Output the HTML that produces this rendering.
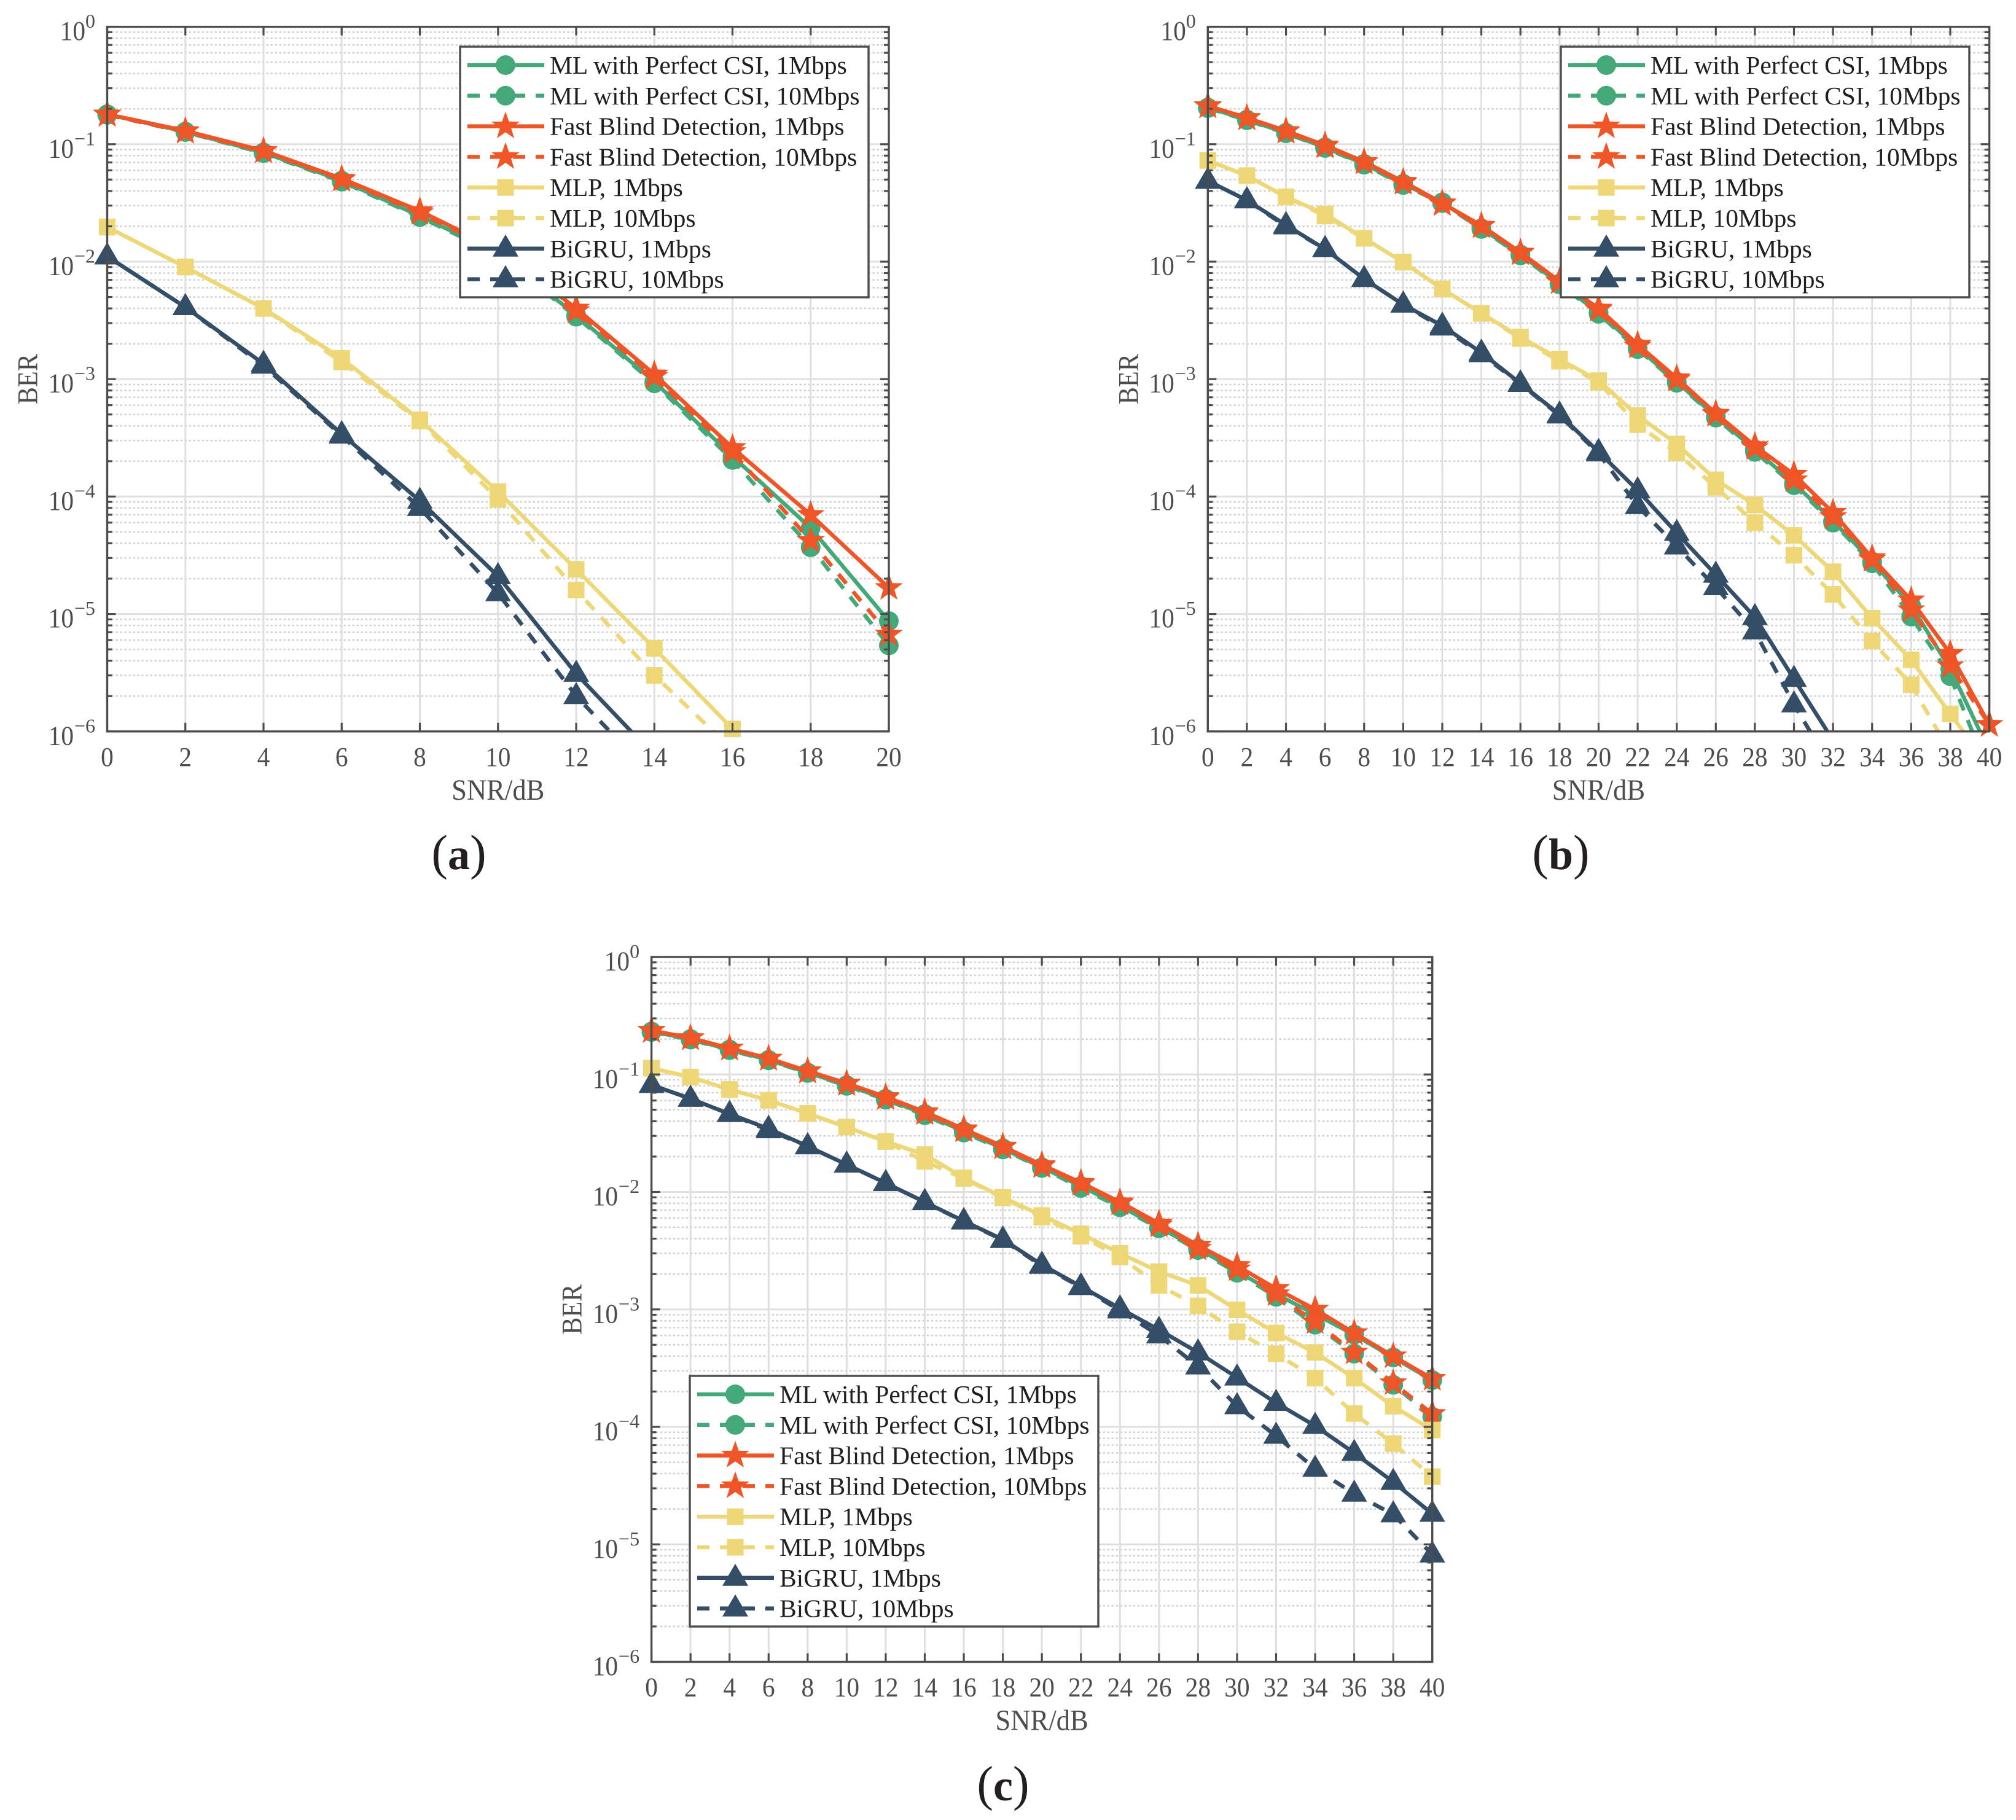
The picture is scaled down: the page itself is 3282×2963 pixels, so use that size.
<!DOCTYPE html>
<html lang="en">
<head>
<meta charset="utf-8">
<title>BER versus SNR comparison</title>
<style>
html,body{margin:0;padding:0;background:#fff;width:3282px;height:2963px;overflow:hidden}
svg{display:block}
text{font-family:"Liberation Serif","Times New Roman",serif}
</style>
</head>
<body>
<svg id="chart" xmlns="http://www.w3.org/2000/svg" width="3282" height="2963" viewBox="0 0 3282 2963"></svg>
<script>
// ---------- shared tick data ----------
const yExponents = [0, -1, -2, -3, -4, -5, -6];
const xTicksShort = [0, 2, 4, 6, 8, 10, 12, 14, 16, 18, 20];
const xTicksLong = [0, 2, 4, 6, 8, 10, 12, 14, 16, 18, 20, 22, 24, 26, 28, 30, 32, 34, 36, 38, 40];
const legendLabels = [
  "ML with Perfect CSI, 1Mbps",
  "ML with Perfect CSI, 10Mbps",
  "Fast Blind Detection, 1Mbps",
  "Fast Blind Detection, 10Mbps",
  "MLP, 1Mbps",
  "MLP, 10Mbps",
  "BiGRU, 1Mbps",
  "BiGRU, 10Mbps"
];
const seriesKeys = ["ml-1mbps", "ml-10mbps", "fbd-1mbps", "fbd-10mbps", "mlp-1mbps", "mlp-10mbps", "bigru-1mbps", "bigru-10mbps"];

// ---------- panel (a) BER values, SNR = 0,2,4... ----------
const aMl1 = [.18, .128, .085, .049, .0245, .0118, .0035, .00095, .00022, .000054, .0000087];
const aMl10 = [.178, .127, .084, .048, .024, .0115, .0034, .00092, .000205, .000037, .0000054];
const aFbd1 = [.18, .13, .088, .051, .027, .0127, .004, .0011, .00026, .00007, .0000167];
const aFbd10 = [.178, .128, .087, .05, .026, .0122, .0038, .00105, .00024, .000042, .0000067];
const aMlp1 = [.0197, .009, .004, .0015, .00045, .00011, .000024, .0000051, .00000105, .0000002];
const aMlp10 = [.0197, .009, .004, .0014, .00044, .000095, .000016, .000003, .0000007];
const aGru1 = [.0111, .0041, .00135, .00034, .000092, .000021, .0000031, .00000062];
const aGru10 = [.0111, .0041, .0013, .00033, .00008, .000015, .000002, .0000004];

// ---------- panel (b) BER values ----------
const bMl1 = [.205, .162, .125, .094, .068, .046, .032, .0192, .0115, .0065, .0037, .00185, .00095, .00048, .00025, .00013, .000062, .000028, .0000118, .0000034, .00000068];
const bMl10 = [.203, .16, .124, .093, .067, .045, .0315, .019, .0113, .0064, .0036, .0018, .00093, .00047, .00024, .000125, .00006, .000027, .0000095, .00000295, .00000043];
const bFbd1 = [.212, .168, .13, .098, .071, .048, .0315, .0203, .012, .0068, .004, .00197, .00102, .00051, .00027, .000154, .000073, .00003, .0000131, .0000046, .00000114];
const bFbd10 = [.21, .166, .128, .096, .07, .047, .031, .02, .0118, .0067, .0039, .0019, .00099, .0005, .00026, .000138, .000067, .000029, .0000108, .0000036, .00000114];
const bMlp1 = [.0727, .054, .0356, .0255, .0158, .0099, .00586, .00363, .00228, .00148, .00097, .00049, .00028, .000139, .000085, .0000467, .0000229, .0000092, .00000407, .00000141, .0000005];
const bMlp10 = [.0727, .054, .0356, .0245, .0158, .0099, .00586, .00363, .00222, .00142, .00094, .00041, .000235, .00012, .00006, .0000317, .0000147, .0000059, .0000025, .00000066];
const bGru1 = [.0488, .0333, .0205, .0128, .00713, .00431, .00285, .00168, .00092, .0005, .00024, .000113, .000049, .0000216, .0000094, .0000028, .00000084];
const bGru10 = [.0488, .0333, .02, .0128, .00713, .00431, .00275, .00163, .00091, .00049, .000233, .000083, .0000376, .0000169, .0000071, .0000017, .00000047];

// ---------- panel (c) BER values ----------
const cMl1 = [.232, .2, .163, .133, .104, .081, .062, .046, .0328, .0235, .0162, .0112, .0076, .005, .0033, .00212, .00135, .00091, .00061, .00039, .00025];
const cMl10 = [.23, .198, .161, .132, .103, .08, .061, .045, .032, .023, .016, .0108, .0074, .0049, .0032, .00205, .00128, .00074, .00042, .000228, .000122];
const cFbd1 = [.2366, .2046, .167, .137, .107, .084, .0645, .048, .0343, .0244, .017, .012, .0082, .0054, .0035, .00235, .0015, .001, .00063, .0004, .000257];
const cFbd10 = [.235, .203, .166, .136, .106, .083, .063, .047, .0335, .024, .0166, .0117, .008, .0052, .0033, .0022, .00135, .00078, .00043, .000236, .000129];
const cMlp1 = [.113, .095, .0744, .0603, .0466, .0356, .0269, .0208, .0132, .009, .0063, .0044, .003, .0021, .0016, .00099, .00063, .00043, .00026, .00015, .000094];
const cMlp10 = [.113, .095, .0744, .0603, .0466, .0356, .0269, .0182, .013, .0089, .0061, .0042, .0028, .0016, .00107, .000645, .00042, .00026, .00013, .000072, .0000377];
const cGru1 = [.0815, .0622, .0461, .0345, .0245, .0171, .0119, .0082, .00565, .00394, .0024, .00157, .00102, .00067, .00043, .000263, .00016, .000102, .00006, .000034, .0000182];
const cGru10 = [.0815, .0622, .0461, .0335, .0245, .0171, .0119, .0082, .0056, .0039, .00235, .00155, .00098, .0006, .000327, .00015, .000084, .000044, .000027, .000018, .0000082];

// ---------- styling (separate from data) ----------
const GREEN = "#43a978", ORANGE = "#ef5527", YELLOW = "#edd777", NAVY = "#334e66";
const seriesColors = [GREEN, GREEN, ORANGE, ORANGE, YELLOW, YELLOW, NAVY, NAVY];
const seriesMarkers = ["circle", "circle", "star", "star", "square", "square", "triangle", "triangle"];
const seriesDashed = [false, true, false, true, false, true, false, true];
const AXIS = "#4d4d4d";
const NS = "http://www.w3.org/2000/svg";
const root = document.getElementById("chart");

function el(parent, tag, attrs, text) {
  const node = document.createElementNS(NS, tag);
  for (const k in attrs) node.setAttribute(k, attrs[k]);
  if (text !== undefined) node.textContent = text;
  parent.appendChild(node);
  return node;
}
function label(parent, x, y, str, size, anchor, sx, fill) {
  return el(parent, "text", {
    transform: "translate(" + x + "," + y + ") scale(" + sx + ",1)",
    "font-size": size, "text-anchor": anchor, fill: fill || AXIS
  }, str);
}
function drawMarker(parent, kind, x, y, color) {
  let m;
  if (kind === "circle") {
    m = el(parent, "circle", { cx: x, cy: y, r: 16, fill: color });
  } else if (kind === "square") {
    m = el(parent, "rect", { x: x - 13.5, y: y - 13.5, width: 27, height: 27, fill: color });
  } else if (kind === "triangle") {
    m = el(parent, "polygon", { points: x + "," + (y - 23) + " " + (x + 21) + "," + (y + 13) + " " + (x - 21) + "," + (y + 13), fill: color });
  } else {
    const R = 24, r = R * 0.40, pts = [];
    for (let i = 0; i < 10; i++) {
      const a = -Math.PI / 2 + i * Math.PI / 5, q = i % 2 ? r : R;
      pts.push((x + q * Math.cos(a)).toFixed(2) + "," + (y + q * Math.sin(a)).toFixed(2));
    }
    m = el(parent, "polygon", { points: pts.join(" "), fill: color });
  }
  return m;
}

function drawPanel(id, left, right, top, bottom, xTicks, values, legendLeft, legendTop) {
  const xMax = xTicks[xTicks.length - 1];
  const xScale = v => left + (right - left) * v / xMax;
  const yScale = v => top + (bottom - top) * (-Math.log10(v)) / 6;

  const g = el(root, "g", {});
  
  

  // grid
  const grid = el(g, "g", {});
  
  
  yExponents.forEach(function (e) {
    if (e > -6) {
      for (let k = 2; k <= 9; k++) {
        const yy = yScale(k * Math.pow(10, e - 1));
        el(grid, "line", { x1: left, x2: right, y1: yy, y2: yy, stroke: "#d2d2d2", "stroke-width": 2.6, "stroke-dasharray": "3.5 3.5" });
      }
    }
    const y0 = yScale(Math.pow(10, e));
    el(grid, "line", { x1: left, x2: right, y1: y0, y2: y0, stroke: "#e0e0e0", "stroke-width": 3 });
  });
  xTicks.forEach(function (t) {
    const xx = xScale(t);
    el(grid, "line", { x1: xx, x2: xx, y1: top, y2: bottom, stroke: "#dfdfdf", "stroke-width": 3 });
  });

  // clip region for lines
  const defs = el(g, "defs", {});
  const clip = el(defs, "clipPath", { id: "clip-" + id });
  el(clip, "rect", { x: left, y: top, width: right - left, height: bottom - top });

  // series
  values.forEach(function (series, i) {
    const s = el(g, "g", {});
    
    
    const pts = series.map((v, j) => xScale(xTicks[j]).toFixed(2) + "," + yScale(v).toFixed(2)).join(" ");
    const attrs = { points: pts, fill: "none", stroke: seriesColors[i], "stroke-width": 6.5, "stroke-linejoin": "miter", "clip-path": "url(#clip-" + id + ")" };
    if (seriesDashed[i]) attrs["stroke-dasharray"] = "20 17";
    el(s, "polyline", attrs);
    series.forEach(function (v, j) {
      if (v >= 1e-6) drawMarker(s, seriesMarkers[i], xScale(xTicks[j]), yScale(v), seriesColors[i]);
    });
  });

  // axes box and ticks
  const ax = el(g, "g", {});
  
  
  el(ax, "rect", { x: left, y: top, width: right - left, height: bottom - top, fill: "none", stroke: AXIS, "stroke-width": 3.4 });
  xTicks.forEach(function (t) {
    const xx = xScale(t);
    el(ax, "line", { x1: xx, x2: xx, y1: bottom, y2: bottom - 14, stroke: AXIS, "stroke-width": 3.2 });
    el(ax, "line", { x1: xx, x2: xx, y1: top, y2: top + 14, stroke: AXIS, "stroke-width": 3.2 });
    const tl = label(ax, xx, bottom + 56, String(t), 44, "middle", 0.94);
    
    
  });
  yExponents.forEach(function (e) {
    const y0 = yScale(Math.pow(10, e));
    el(ax, "line", { x1: left, x2: left + 14, y1: y0, y2: y0, stroke: AXIS, "stroke-width": 3.2 });
    el(ax, "line", { x1: right, x2: right - 14, y1: y0, y2: y0, stroke: AXIS, "stroke-width": 3.2 });
    if (e > -6) {
      for (let k = 2; k <= 9; k++) {
        const yy = yScale(k * Math.pow(10, e - 1));
        el(ax, "line", { x1: left, x2: left + 8, y1: yy, y2: yy, stroke: AXIS, "stroke-width": 3.2 });
        el(ax, "line", { x1: right, x2: right - 8, y1: yy, y2: yy, stroke: AXIS, "stroke-width": 3.2 });
      }
    }
    const base = label(ax, left - (e === 0 ? 35.5 : 54.5), y0 + 21.5, "10", 44, "end", 0.94);
    
    
    const sup = label(ax, left - 19.5, y0 + 1.5, e === 0 ? "0" : "\u2212" + (-e), 32, "end", 1);
    
    
  });

  const xt = label(ax, (left + right) / 2, bottom + 111, "SNR/dB", 48, "middle", 0.93);
  
  
  const yt = el(ax, "text", {
    transform: "translate(" + (left - 114) + "," + ((top + bottom) / 2) + ") rotate(-90) scale(0.9,1)",
    "font-size": 47, "text-anchor": "middle", fill: AXIS
  }, "BER");
  
  

  // legend
  const lg = el(g, "g", {});
  
  
  el(lg, "rect", { x: legendLeft, y: legendTop, width: 665, height: 408, fill: "#fff", stroke: AXIS, "stroke-width": 3.4 });
  legendLabels.forEach(function (txt, i) {
    const ry = legendTop + 30 + 49.8 * i;
    const row = el(lg, "g", {});
    
    
    const la = { x1: legendLeft + 12, x2: legendLeft + 137, y1: ry, y2: ry, stroke: seriesColors[i], "stroke-width": 6.5 };
    if (seriesDashed[i]) la["stroke-dasharray"] = "20 17";
    el(row, "line", la);
    drawMarker(row, seriesMarkers[i], legendLeft + 74, ry, seriesColors[i]);
    el(row, "text", { x: legendLeft + 146, y: ry + 14, "font-size": 41.5, fill: "#1f1f1f" }, txt);
  });
}

function caption(letter, cx, baseline) {
  const t = el(root, "text", { x: cx, y: baseline, "text-anchor": "middle", fill: "#231f20" });
  
  
  el(t, "tspan", { "font-size": 80 }, "(");
  el(t, "tspan", { "font-size": 72, "font-weight": "bold" }, letter);
  el(t, "tspan", { "font-size": 80 }, ")");
}

drawPanel("a", 174.5, 1447, 43.6, 1190.8, xTicksShort,
  [aMl1, aMl10, aFbd1, aFbd10, aMlp1, aMlp10, aGru1, aGru10], 749, 76);
drawPanel("b", 1966.3, 3238.6, 43.6, 1190.8, xTicksLong,
  [bMl1, bMl10, bFbd1, bFbd10, bMlp1, bMlp10, bGru1, bGru10], 2541, 76);
drawPanel("c", 1060.6, 2331.7, 1558, 2705.5, xTicksLong,
  [cMl1, cMl10, cFbd1, cFbd10, cMlp1, cMlp10, cGru1, cGru10], 1123, 2240);

caption("a", 747, 1415);
caption("b", 2541, 1415);
caption("c", 1633, 2931);
</script>
</body>
</html>
